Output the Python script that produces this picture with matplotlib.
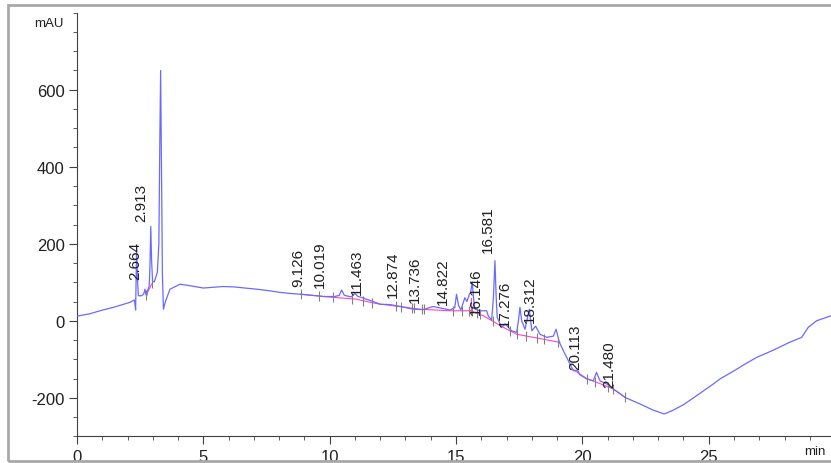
import numpy as np
import matplotlib
matplotlib.use("Agg")
import matplotlib.pyplot as plt
from matplotlib.patches import Rectangle

plt.rcParams['font.family'] = ['Liberation Sans', 'DejaVu Sans']
plt.rcParams['axes.unicode_minus'] = False

# ---- chromatogram trace (time in min, signal in mAU) ----
time_min = [0.0, 0.5, 0.91, 1.5, 2.1, 2.27, 2.30, 2.32, 2.34, 2.36, 2.39, 2.43, 2.56,
            2.64, 2.69, 2.73, 2.76, 2.80, 2.86, 2.89, 2.92, 2.95, 2.99, 3.06, 3.18,
            3.24, 3.28, 3.31, 3.34, 3.38, 3.42, 3.50, 3.68, 4.08, 4.47, 5.0, 5.78,
            6.2, 7.11, 7.6, 8.0, 8.43, 8.83, 9.3, 9.8, 10.2, 10.38, 10.47, 10.58,
            10.85, 11.0, 11.12, 11.3, 11.4, 11.55, 11.8, 12.0, 12.39, 12.8, 13.31,
            13.7, 14.09, 14.4, 14.76, 14.95, 15.02, 15.10, 15.19, 15.35, 15.43, 15.52,
            15.58, 15.64, 15.70, 15.75, 15.95, 16.21, 16.28, 16.41, 16.48, 16.54, 16.59,
            16.63, 16.80, 16.95, 17.2, 17.4, 17.47, 17.53, 17.60, 17.73, 17.82, 17.90,
            18.0, 18.15, 18.32, 18.59, 18.85, 18.96, 19.09, 19.31, 19.44, 19.64, 19.80,
            19.9, 20.17, 20.43, 20.56, 20.70, 20.96, 21.22, 21.42, 21.69, 22.28, 22.8,
            23.24, 23.6, 24.0, 24.4, 24.79, 25.1, 25.45, 26.0, 26.5, 26.9, 27.5, 28.2,
            28.68, 28.94, 29.27, 29.84]
signal_mau = [12, 18, 26, 36, 48, 54, 40, 28, 120, 195, 110, 65, 65,
              70, 82, 68, 65, 80, 91, 150, 245, 160, 103, 101, 126,
              200, 480, 650, 420, 120, 30, 50, 82, 95, 91, 85, 89,
              88, 82, 78, 74, 71, 69, 66, 63, 63, 66, 80, 66,
              62, 71, 63, 60, 57, 54, 48, 43, 42, 37, 30,
              29, 37, 33, 28, 34, 69, 40, 28, 60, 50, 67,
              75, 100, 55, 30, 26, 26, 12, 2, 60, 156, 60,
              9, -17, -8, -26, -30, 0, 35, 0, -22, 5, 30,
              -26, -14, -35, -43, -40, -22, -56, -86, -103, -130, -128,
              -140, -151, -156, -134, -156, -164, -177, -186, -199, -216, -232,
              -242, -232, -218, -200, -182, -168, -151, -130, -110, -95, -78, -56,
              -43, -17, 0, 13]

# ---- integration baselines (magenta) ----
base1_t = [2.74, 2.98]
base1_y = [68, 98]
base2_t = [8.85, 9.75, 11.07, 11.6, 12.0, 12.78, 13.57, 14.76, 15.58]
base2_y = [69, 63, 56, 48, 43, 37, 30, 26, 26]
base3_t = [15.58, 16.08, 16.87, 17.4, 18.06, 19.11]
base3_y = [26, 13, -17, -35, -43, -56]
base4_t = [19.6, 20.17, 20.5, 21.22, 21.69]
base4_y = [-125, -150, -158, -177, -199]

# ---- peak start/end event marks ----
event_t = [2.74, 2.98, 8.85, 9.59, 10.12, 10.87, 11.30, 11.66, 12.62, 12.81, 13.24,
           13.33, 13.64, 13.73, 14.87, 15.22, 15.52, 15.62, 15.82, 15.95, 16.45,
           17.13, 17.4, 17.77, 18.19, 18.48, 19.05, 20.17, 20.5, 21.03, 21.22, 21.69]

# ---- retention time labels ----
peak_labels = ['2.664', '2.913', '9.126', '10.019', '11.463', '12.874', '13.736',
               '14.822', '16.146', '16.581', '17.276', '18.312', '20.113', '21.480']
label_t = [2.30, 2.56, 8.76, 9.63, 11.09, 12.49, 13.38, 14.47, 15.79, 16.25,
           16.94, 17.93, 19.71, 21.06]
label_y = [108, 260, 91, 87, 69, 61, 48, 43, 17, 178, -13, -4, -125, -173]

x_major = [0, 5, 10, 15, 20, 25]
y_major = [-200, 0, 200, 400, 600]

fig = plt.figure(figsize=(8.31, 4.64), dpi=100)
ax = fig.add_axes([77 / 831, 1 - 437.3 / 464, 1 - 77 / 831, (437.3 - 13.7) / 464])

trace_col = '#6a6aff'
ax.plot(time_min, signal_mau, color=trace_col, lw=0.9, zorder=3)
for bt, by in [(base1_t, base1_y), (base2_t, base2_y), (base3_t, base3_y), (base4_t, base4_y)]:
    ax.plot(bt, by, color='#ff44cc', lw=0.8, zorder=2)
# vertical drop at 15.58
ax.plot([15.58, 15.58], [26, 60], color='#ff44cc', lw=0.8, zorder=2)

all_bt = base1_t + base2_t + base3_t[1:] + base4_t
all_by = base1_y + base2_y + base3_y[1:] + base4_y
ev_y = np.interp(event_t, all_bt, all_by)
ax.plot(event_t, ev_y, linestyle='none', marker='|', markersize=7,
        markeredgewidth=0.8, color='#808080', zorder=4)

for lab, lt, ly in zip(peak_labels, label_t, label_y):
    ax.text(lt, ly, lab, rotation=90, ha='center', va='bottom', fontsize=11,
            color='#202020', zorder=5)

ax.set_xlim(0, 29.84)
ax.set_ylim(-300, 800)
ax.set_xticks(x_major)
ax.set_yticks(y_major)
ax.set_xticks(np.arange(0, 30, 1), minor=True)
ax.set_yticks(np.arange(-300, 801, 50), minor=True)
for s in ['top', 'right']:
    ax.spines[s].set_visible(False)
for s in ['left', 'bottom']:
    ax.spines[s].set_color('#404040')
    ax.spines[s].set_linewidth(0.8)
ax.tick_params(axis='both', which='major', length=6, width=0.8, color='#404040',
               labelsize=12, labelcolor='#202020')
ax.tick_params(axis='both', which='minor', length=3, width=0.6, color='#404040')
ax.tick_params(axis='x', pad=3)
ax.tick_params(axis='y', pad=3)

fig.text(49 / 831, 1 - 24 / 464, 'mAU', ha='center', va='center', fontsize=9.5, color='#202020')
fig.text(826 / 831, 1 - 452 / 464, 'min', ha='right', va='center', fontsize=9.5, color='#202020')

fig.patches.append(Rectangle((8 / 831, 2 / 464), 1.05, (458 - 2) / 464,
                             transform=fig.transFigure, fill=False,
                             edgecolor='#a8a8a8', lw=2.0, zorder=0))

fig.savefig('out.png', dpi=100)
